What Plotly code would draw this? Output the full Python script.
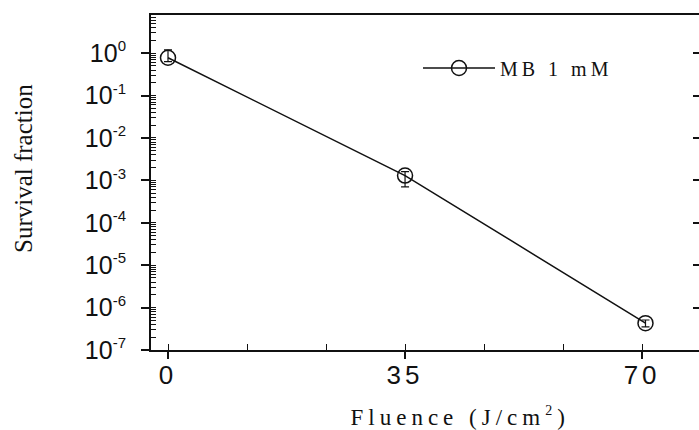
import plotly.graph_objects as go

fluence = [0, 35, 70.5]
survival = [0.78, 1.3e-3, 4.3e-7]
err_plus = [0.42, 0.3e-3, 0.8e-7]
err_minus = [0.15, 0.6e-3, 0.8e-7]
series_name = "MB 1 mM"

y_tickvals = [1, 1e-1, 1e-2, 1e-3, 1e-4, 1e-5, 1e-6, 1e-7]
y_exps = ["0", "-1", "-2", "-3", "-4", "-5", "-6", "-7"]
y_ticktext = ["10<sup><span style='font-size:15px'>%s</span></sup>" % e for e in y_exps]
x_tickvals = [0, 35, 70]
x_ticktext = ["0", "35", "70"]

W, H = 699, 430
L, R, T, B = 151, 0, 15, 80
pw, ph = W - L - R, H - T - B

fig = go.Figure()
fig.add_trace(go.Scatter(
    x=fluence, y=survival, mode="lines+markers", name=series_name,
    line=dict(color="#111", width=1.5),
    marker=dict(symbol="circle-open", size=15, color="#111", line=dict(width=1.5)),
    error_y=dict(type="data", symmetric=False, array=err_plus, arrayminus=err_minus,
                 color="#111", thickness=1.2, width=4),
))
fig.add_trace(go.Scatter(x=fluence, y=survival, yaxis="y2", mode="markers",
                         marker=dict(opacity=0), showlegend=False, hoverinfo="skip"))

fig.update_layout(
    width=W, height=H,
    margin=dict(l=L, r=R, t=T, b=B),
    paper_bgcolor="white", plot_bgcolor="white",
    showlegend=True,
    legend=dict(x=(418 - L) / pw, y=(H - B - 68) / ph, xanchor="left", yanchor="middle",
                bgcolor="rgba(0,0,0,0)", itemwidth=72,
                font=dict(family="Liberation Serif", size=20, color="#111")),
    xaxis=dict(range=[-2.51, 78.4], tickvals=x_tickvals, ticktext=x_ticktext,
               ticks="outside", ticklen=7, tickwidth=1.5, tickcolor="#111",
               showline=True, linewidth=2, linecolor="#111", mirror=True,
               showgrid=False, zeroline=False, ticklabelstandoff=-6,
               tickfont=dict(family="Liberation Sans", size=26, color="#111"),
               minor=dict(tick0=0, dtick=35/3, ticks="inside", ticklen=6,
                          tickwidth=1.2, tickcolor="#111", showgrid=False)),
    yaxis=dict(type="log", range=[-7, 0.9], tickvals=y_tickvals, ticktext=y_ticktext,
               ticks="outside", ticklen=8, tickwidth=1.5, tickcolor="#111",
               showline=True, linewidth=2, linecolor="#111", mirror=False,
               showgrid=False, zeroline=False, ticklabelstandoff=10,
               tickfont=dict(family="Liberation Sans", size=25, color="#111"),
               minor=dict(dtick="D1", ticks="inside", ticklen=5, tickwidth=1,
                          tickcolor="#111", showgrid=False)),
    yaxis2=dict(type="log", range=[-7, 0.9], overlaying="y", side="right",
                tickvals=y_tickvals, ticks="inside", ticklen=6, tickwidth=1.5,
                tickcolor="#111", showticklabels=False, showgrid=False,
                zeroline=False, showline=False),
    annotations=[
        dict(text="Survival fraction", x=(23 - L) / pw, y=(H - B - 169) / ph,
             xref="paper", yref="paper", showarrow=False, textangle=-90,
             xanchor="center", yanchor="middle",
             font=dict(family="Liberation Serif", size=25, color="#111")),
        dict(text="Fluence (J/cm<sup><span style='font-size:14px'>2</span></sup>)",
             x=(460 - L) / pw, y=(H - B - 416) / ph, xref="paper", yref="paper",
             showarrow=False, xanchor="center", yanchor="middle",
             font=dict(family="Liberation Serif", size=23, color="#111")),
    ],
)

post = """
document.body.style.margin='0';
var gd=document.getElementById('{plot_id}');
function ls(){
  gd.querySelectorAll('.legend .scrollbox').forEach(function(e){e.removeAttribute('clip-path');});
  gd.querySelectorAll('.legendtext').forEach(function(e){e.style.letterSpacing='4px';});
  gd.querySelectorAll('.xtick text').forEach(function(e){e.style.letterSpacing='4px';});
  var an=gd.querySelectorAll('.annotation');
  if(an.length>1){an[1].querySelectorAll('.annotation-text').forEach(function(e){e.style.letterSpacing='5px';});}
}
ls();
gd.on('plotly_afterplot', ls);
"""
fig.write_html("out.html", post_script=post, config={"displayModeBar": False})
